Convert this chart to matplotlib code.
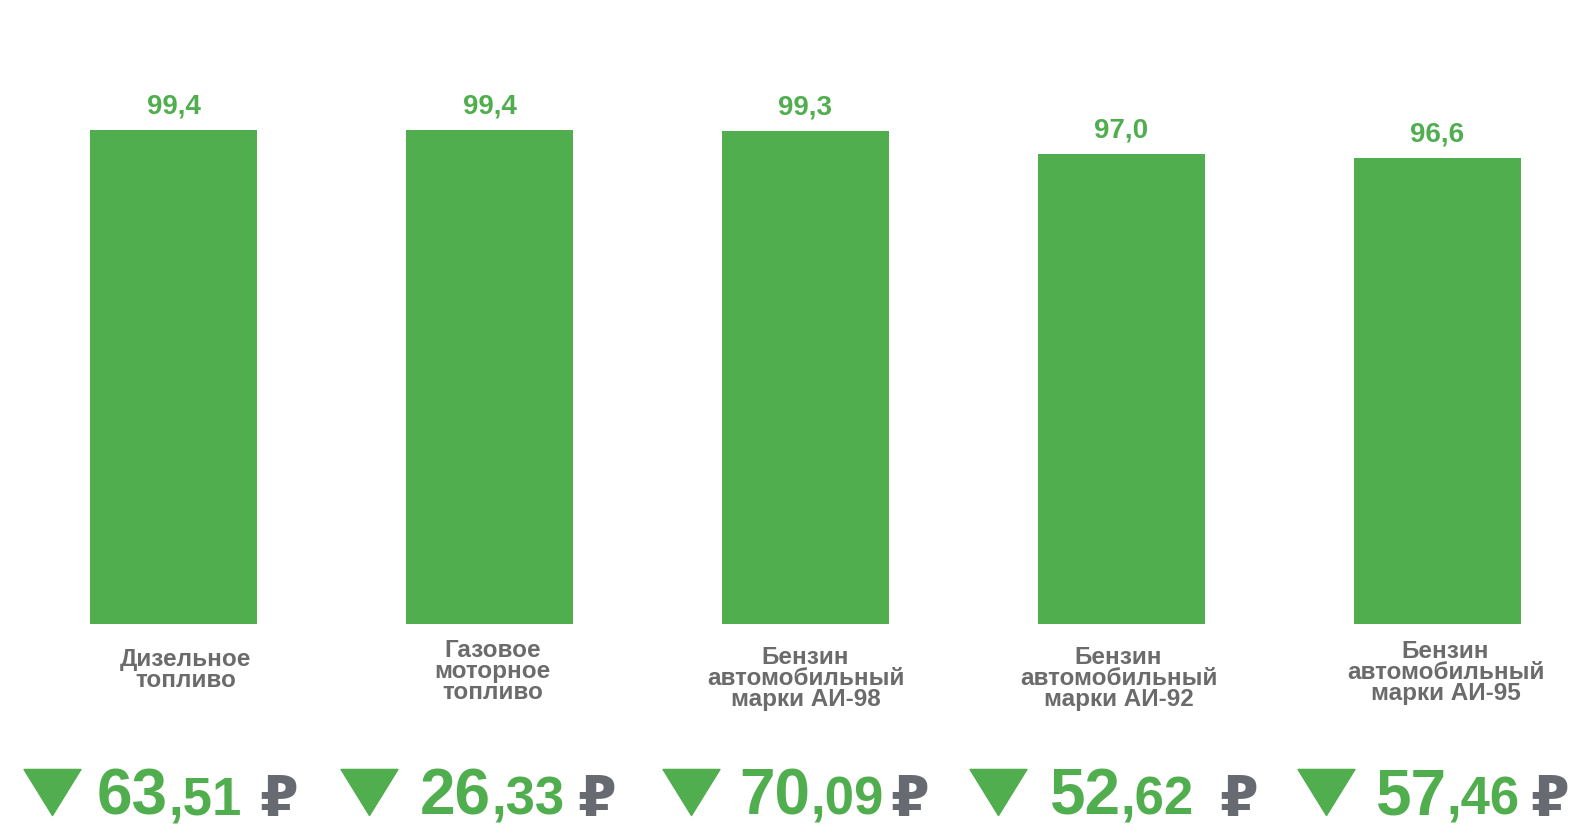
import matplotlib
matplotlib.use("Agg")
import matplotlib.pyplot as plt
from matplotlib.path import Path
from matplotlib.transforms import blended_transform_factory

plt.rcParams['font.family'] = ['Liberation Sans', 'DejaVu Sans']

# данные
categories = ["Дизельное\nтопливо", "Газовое\nмоторное\nтопливо",
              "Бензин\nавтомобильный\nмарки АИ-98", "Бензин\nавтомобильный\nмарки АИ-92",
              "Бензин\nавтомобильный\nмарки АИ-95"]
values = [99.4, 99.4, 99.3, 97.0, 96.6]
price_int = ["63", "26", "70", "52", "57"]
price_dec = [",51", ",33", ",09", ",62", ",46"]

GREEN = "#50ae4f"
GRAY = "#6b6b6b"
RUB_GRAY = "#686a72"

W, H = 1574, 829
STEP = 316  # пикселей между столбцами
fig = plt.figure(figsize=(W / 100, H / 100), dpi=100)
ax = fig.add_axes([0, 204 / H, 1, 625 / H])

x = list(range(len(values)))
ax.bar(x, values, width=0.53, color=GREEN)
ax.set_xlim(-173.5 / STEP, (W - 173.5) / STEP)
ax.set_ylim(50, 112.5)
ax.axis("off")

# подписи значений
for i, v in enumerate(values):
    ax.text(i, v + 1.8, f"{v:.1f}".replace(".", ","), ha="center", va="baseline",
            fontsize=20, fontweight="bold", color=GREEN)

# подписи категорий
bt = blended_transform_factory(ax.transData, fig.transFigure)
label_dx = [12, 3, 0, -3, 8]          # сдвиг в пикселях
label_top = [648, 639, 646, 646, 640]
for i, lab in enumerate(categories):
    ax.text(i + label_dx[i] / STEP, 1 - label_top[i] / H, lab, transform=bt,
            ha="center", va="top", fontsize=17.5, fontweight="bold", color=GRAY,
            linespacing=0.88, clip_on=False)

# треугольники
tri = Path([(-1, 0.81), (1, 0.81), (0, -0.81), (-1, 0.81)],
           [Path.MOVETO, Path.LINETO, Path.LINETO, Path.CLOSEPOLY])
tri_dx = [-122, -120, -114, -123, -111.5]
tri_y = 1 - 793 / H
for i in x:
    ax.plot(i + tri_dx[i] / STEP, tri_y, marker=tri, markersize=41, color=GREEN,
            transform=bt, clip_on=False, linestyle="none")

# цены
num_dx = [-76.5, -69.5, -66.5, -72.5, -62.5]
rub_dx = [86, 88, 85, 98, 93]
base_y = 1 - 815 / H
fig.canvas.draw()
r = fig.canvas.get_renderer()
for i in x:
    t1 = ax.text(i + num_dx[i] / STEP, base_y, price_int[i], transform=bt, ha="left",
                 va="baseline", fontsize=46, fontweight="bold", color=GREEN, clip_on=False)
    x1 = t1.get_window_extent(r).x1 / W
    fig.text(x1, base_y, price_dec[i], ha="left", va="baseline",
             fontsize=38, fontweight="bold", color=GREEN)
    ax.text(i + rub_dx[i] / STEP, base_y, "₽", transform=bt, ha="left", va="baseline",
            fontsize=40, fontweight="bold", color=RUB_GRAY, clip_on=False)

fig.savefig("out.png", dpi=100)
